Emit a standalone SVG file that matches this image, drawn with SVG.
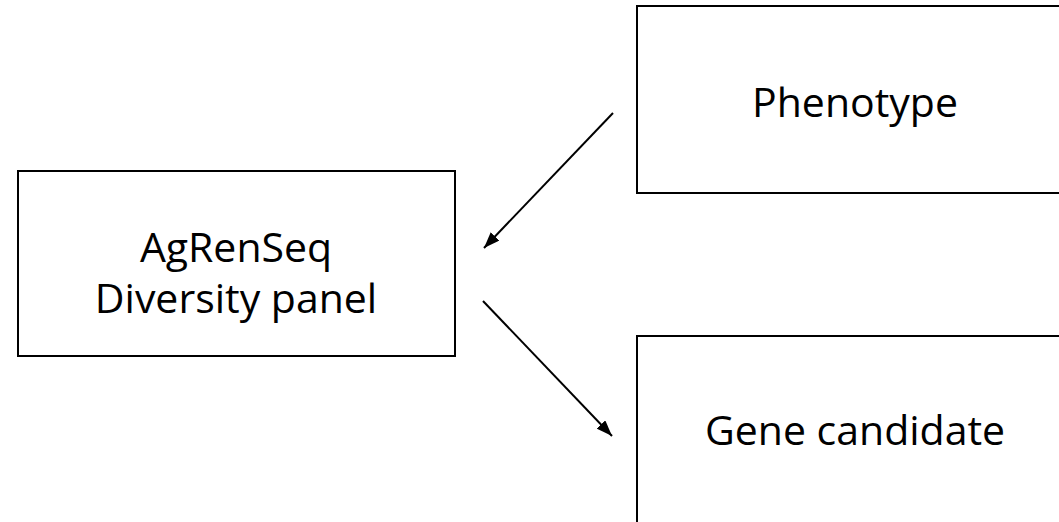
<svg xmlns="http://www.w3.org/2000/svg" width="1059" height="522" viewBox="0 0 1059 522">
<style>
.box{fill:#fff;stroke:#000;stroke-width:2}
.t{font-family:"Open Sans","Liberation Sans",sans-serif;font-size:41px;fill:#000;text-anchor:middle}
</style>
<defs>
<marker id="ah2" markerWidth="16" markerHeight="12" refX="16" refY="6" orient="auto" markerUnits="userSpaceOnUse" viewBox="0 0 16 12">
<path d="M0,0 L16,6 L0,12 Z" fill="#000"/>
</marker>
</defs>
<rect width="1059" height="522" fill="#fff"/>
<g id="node-agrenseq">
<rect class="box" x="18" y="171" width="437" height="185"/>
<text class="t" x="236" y="262">AgRenSeq</text>
<text class="t" x="236" y="313">Diversity panel</text>
</g>
<g id="node-phenotype">
<rect class="box" x="637" y="6" width="440" height="187"/>
<text class="t" x="855" y="117">Phenotype</text>
</g>
<g id="node-gene">
<rect class="box" x="637" y="336" width="440" height="200"/>
<text class="t" x="855" y="445">Gene candidate</text>
</g>
<g id="connectors">
<line x1="613" y1="113" x2="484" y2="248" stroke="#000" stroke-width="2" marker-end="url(#ah2)"/>
<line x1="483" y1="301" x2="612" y2="436" stroke="#000" stroke-width="2" marker-end="url(#ah2)"/>
</g>
</svg>
